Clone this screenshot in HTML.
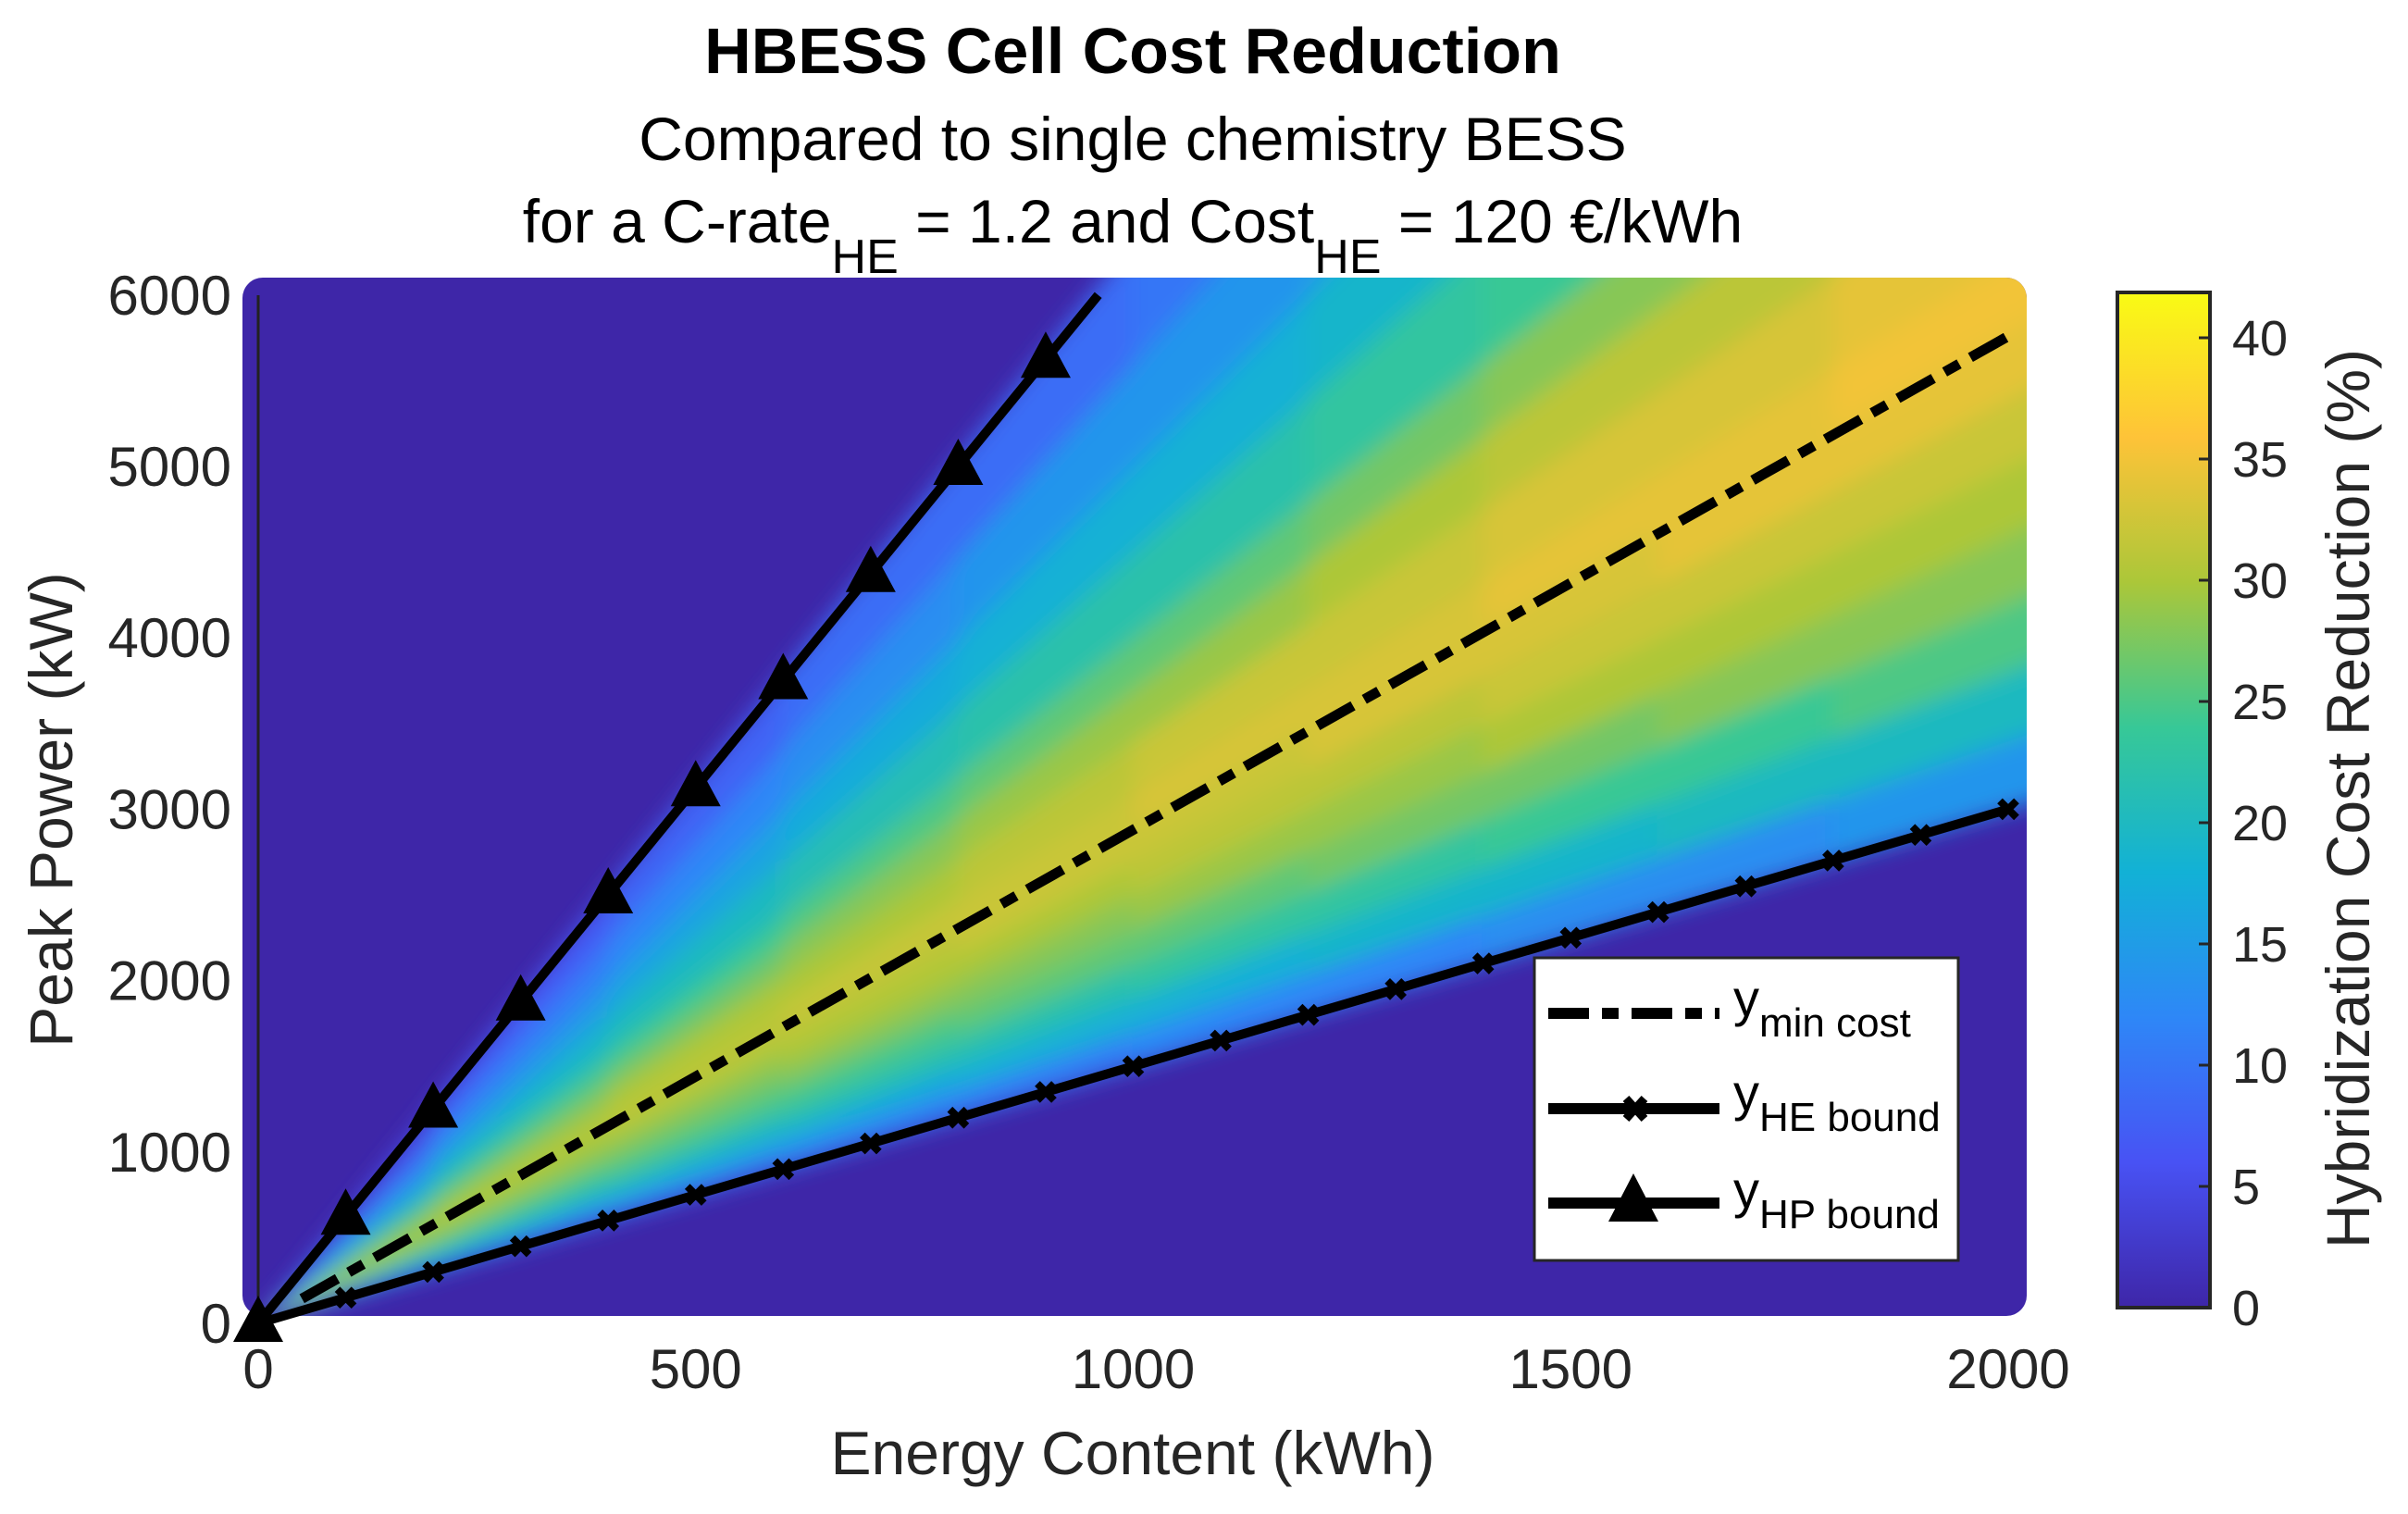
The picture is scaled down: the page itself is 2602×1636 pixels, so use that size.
<!DOCTYPE html>
<html><head><meta charset="utf-8">
<style>
html,body{margin:0;padding:0;background:#fff;}
svg{display:block;font-family:"Liberation Sans",Arial,sans-serif;}
</style></head>
<body>
<svg id="chart" width="2602" height="1636" viewBox="0 0 2602 1636" xmlns="http://www.w3.org/2000/svg">
<defs>
  <clipPath id="plotClip"><rect x="262" y="300" width="1928" height="1122" rx="22"/></clipPath>
  <filter id="soft" x="-5%" y="-5%" width="110%" height="110%"><feGaussianBlur stdDeviation="12"/></filter>
  <linearGradient id="cbGrad" x1="0" y1="1" x2="0" y2="0"></linearGradient>
</defs>
<g text-anchor="middle" fill="#000">
  <text x="1224" y="79" font-size="70" font-weight="bold">HBESS Cell Cost Reduction</text>
  <text x="1224" y="173" font-size="66">Compared to single chemistry BESS</text>
  <text x="1224" y="262" font-size="66">for a C-rate<tspan font-size="52" dy="33">HE</tspan><tspan dy="-33"> = 1.2 and Cost</tspan><tspan font-size="52" dy="33">HE</tspan><tspan dy="-33"> = 120 €/kWh</tspan></text>
</g>
<g id="plot" clip-path="url(#plotClip)">
  <rect x="262" y="300" width="1928" height="1122" fill="#3e26a8"/>
  <g id="field" filter="url(#soft)"></g>
</g>
<line x1="279" y1="319" x2="279" y2="1430" stroke="#222" stroke-width="3"/>
<g id="yticks"></g>
<g id="xticks"></g>
<g id="lines"></g>
<text x="1224" y="1593" font-size="66" text-anchor="middle" fill="#262626">Energy Content (kWh)</text>
<text transform="translate(78,875) rotate(-90)" font-size="66" text-anchor="middle" fill="#262626">Peak Power (kW)</text>
<g>
  <rect x="1658" y="1035" width="458" height="327" fill="#fff" stroke="#262626" stroke-width="3"/>
  <g>
    <line x1="1673" y1="1095" x2="1858" y2="1095" stroke="#000" stroke-width="12" stroke-dasharray="44 14 18 14"/>
    <text x="1873" y="1098" font-size="56" fill="#000">y<tspan font-size="44" dy="22">min cost</tspan></text>
  </g>
  <g>
    <line x1="1673" y1="1198" x2="1858" y2="1198" stroke="#000" stroke-width="12"/>
    <path d="M1757 1187 L1777 1209 M1757 1209 L1777 1187" stroke="#000" stroke-width="9"/>
    <text x="1873" y="1200" font-size="56" fill="#000">y<tspan font-size="44" dy="22">HE bound</tspan></text>
  </g>
  <g>
    <line x1="1673" y1="1300" x2="1858" y2="1300" stroke="#000" stroke-width="12"/>
    <polygon points="1765,1268 1738,1320 1792,1320" fill="#000"/>
    <text x="1873" y="1305" font-size="56" fill="#000">y<tspan font-size="44" dy="22">HP bound</tspan></text>
  </g>
</g>
<g>
  <rect x="2288" y="316" width="100" height="1097" fill="url(#cbGrad)" stroke="#262626" stroke-width="4"/>
  <g id="cbticks"></g>
  <text transform="translate(2560,863) rotate(-90)" font-size="66" text-anchor="middle" fill="#262626">Hybridization Cost Reduction (%)</text>
</g>
</svg>
<script>
// ---- data ----
const xTicks = [0, 500, 1000, 1500, 2000];
const yTicks = [0, 1000, 2000, 3000, 4000, 5000, 6000];
const cbTicks = [0, 5, 10, 15, 20, 25, 30, 35, 40];
const energySegments = [0, 200, 400, 600, 800, 1000, 1200, 1400, 1600, 1800, 2080];
const cRateBands = [1.5, 1.7, 1.9, 2.1, 2.3, 2.5, 2.7, 2.9, 3.1, 3.4, 3.7, 4.0, 4.5, 5.0, 5.6, 6.3];
const reduction = [
 [9,10,10,11,11,12,12,13,13,14],
 [15,16,17,17,18,18,19,19,20,20],
 [20,21,21,22,22,23,23,24,24,25],
 [24,24,25,25,26,26,27,27,28,28],
 [27,27,27,28,28,29,29,30,30,30],
 [29,29,29,30,30,31,31,32,32,32],
 [30,30,31,31,32,32,33,33,34,34],
 [30,31,31,32,32,33,33,34,34,35],
 [28,29,30,30,31,32,32,33,33,34],
 [25,26,27,28,29,29,30,31,31,32],
 [21,23,24,25,26,26,27,28,28,29],
 [17,19,20,21,22,22,23,24,24,25],
 [13,15,16,17,18,18,19,19,20,21],
 [9,11,12,13,14,14,15,15,16,16],
 [5,7,8,9,9,10,10,11,11,12]
];
const heBoundSlope = 1.5;
const hpBoundSlope = 6.25;
const minCostSlope = 2.88;
const heMarkerE = [100,200,300,400,500,600,700,800,900,1000,1100,1200,1300,1400,1500,1600,1700,1800,1900,2000];
const hpMarkerE = [0,100,200,300,400,500,600,700,800,900];
const minCostRange = [50, 2000];
const colorMax = 41.8;

// ---- scales ----
const X = e => 279 + e * 0.9455;
const Y = p => 1430 - p * 0.1852;
const NS = "http://www.w3.org/2000/svg";
const parula = [[62,38,168],[72,82,244],[46,135,247],[18,177,214],[55,200,151],[171,199,57],[254,195,56],[249,251,20]];
function col(v){
  let t = Math.max(0, Math.min(1, v / colorMax)) * (parula.length - 1);
  let i = Math.min(parula.length - 2, Math.floor(t)), f = t - i;
  const c = parula[i].map((a, k) => Math.round(a + (parula[i+1][k] - a) * f));
  return `rgb(${c[0]},${c[1]},${c[2]})`;
}
function mk(tag, attrs, parent){
  const el = document.createElementNS(NS, tag);
  for (const k in attrs) el.setAttribute(k, attrs[k]);
  parent.appendChild(el);
  return el;
}
const grad = document.getElementById('cbGrad');
for (let i = 0; i < parula.length; i++) {
  mk('stop', {offset: (i/(parula.length-1)*100)+'%', 'stop-color': `rgb(${parula[i].join(',')})`}, grad);
}
const field = document.getElementById('field');
for (let b = 0; b < cRateBands.length - 1; b++) {
  for (let s = 0; s < energySegments.length - 1; s++) {
    const e0 = energySegments[s], e1 = energySegments[s+1];
    const c0 = cRateBands[b], c1 = cRateBands[b+1];
    const pts = [[e0,c0*e0],[e1,c0*e1],[e1,c1*e1],[e0,c1*e0]].map(p => X(p[0]).toFixed(1)+','+Y(p[1]).toFixed(1)).join(' ');
    const poly = mk('polygon', {points: pts, fill: col(reduction[b][s]), stroke: col(reduction[b][s]), 'stroke-width': 2}, field);
    
    
  }
}
const yt = document.getElementById('yticks');
yTicks.forEach(v => {
  const t = mk('text', {x: 250, y: Y(v) + 21, 'font-size': 60, 'text-anchor': 'end', fill: '#262626'}, yt);
  t.textContent = v;
  
  
});
const xt = document.getElementById('xticks');
xTicks.forEach(v => {
  const t = mk('text', {x: X(v), y: 1500, 'font-size': 60, 'text-anchor': 'middle', fill: '#262626'}, xt);
  t.textContent = v;
  
  
});
const cbt = document.getElementById('cbticks');
const CY = v => 1413 - v * 26.2;
cbTicks.forEach(v => {
  const l = mk('line', {x1: 2376, x2: 2388, y1: CY(v), y2: CY(v), stroke: '#262626', 'stroke-width': 3}, cbt);
  
  
  const t = mk('text', {x: 2412, y: CY(v) + 19, 'font-size': 54, fill: '#262626'}, cbt);
  t.textContent = v;
  
  
});
const lg = document.getElementById('lines');
const minLine = mk('line', {x1: X(minCostRange[0]), y1: Y(minCostSlope*minCostRange[0]), x2: X(minCostRange[1]), y2: Y(minCostSlope*minCostRange[1]), stroke: '#000', 'stroke-width': 11, 'stroke-dasharray': '44 14 18 14'}, lg);


const heLine = mk('line', {x1: X(0), y1: Y(0), x2: X(2000), y2: Y(heBoundSlope*2000), stroke: '#000', 'stroke-width': 10}, lg);


const hpEnd = 6000 / hpBoundSlope;
const hpLine = mk('line', {x1: X(0), y1: Y(0), x2: X(hpEnd), y2: Y(6000), stroke: '#000', 'stroke-width': 10}, lg);


heMarkerE.forEach(e => {
  const cx = X(e), cy = Y(heBoundSlope*e);
  const m = mk('path', {d: `M${cx-9} ${cy-9} L${cx+9} ${cy+9} M${cx-9} ${cy+9} L${cx+9} ${cy-9}`, stroke: '#000', 'stroke-width': 8}, lg);
  
  
});
hpMarkerE.forEach(e => {
  const cx = X(e), cy = Y(hpBoundSlope*e);
  const m = mk('polygon', {points: `${cx},${cy-30} ${cx-27},${cy+20} ${cx+27},${cy+20}`, fill: '#000'}, lg);
  
  
});
</script>
</body></html>
